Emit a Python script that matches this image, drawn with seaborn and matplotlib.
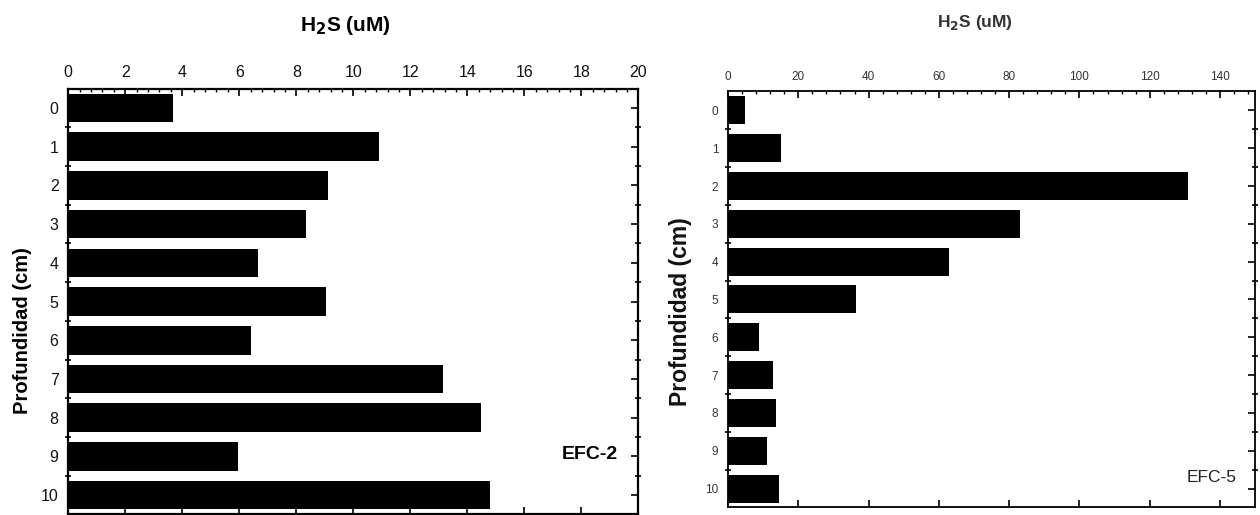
import pandas as pd
import matplotlib
matplotlib.use("Agg")
import matplotlib.pyplot as plt
from matplotlib.ticker import MultipleLocator, FixedLocator
import seaborn as sns

# Depth (cm) and H2S (uM) for the two cores
depth = [0, 1, 2, 3, 4, 5, 6, 7, 8, 9, 10]
h2s_efc2 = [3.67, 10.91, 9.11, 8.33, 6.67, 9.04, 6.41, 13.16, 14.47, 5.95, 14.8]
h2s_efc5 = [4.8, 15.0, 131.0, 83.0, 63.0, 36.5, 8.8, 12.7, 13.7, 11.0, 14.5]

sns.set_style("ticks")
plt.rcParams['font.family'] = ['Liberation Sans', 'DejaVu Sans']
plt.rcParams['text.color'] = 'black'

fig = plt.figure(figsize=(12.6, 5.15), dpi=100)


def draw_panel(ax, values, xmax, major, minor, label_size, label_color, spine_w):
    df = pd.DataFrame({"depth": depth, "h2s": values})
    sns.barplot(data=df, x="h2s", y="depth", orient="h", order=depth,
                color="black", width=0.74, linewidth=0, saturation=1, ax=ax)
    ax.set_xlim(0, xmax)
    ax.set_ylim(len(depth) - 0.5, -0.5)
    ax.set_xlabel("")
    ax.set_ylabel("")
    ax.xaxis.set_major_locator(MultipleLocator(major))
    ax.xaxis.set_minor_locator(MultipleLocator(minor))
    ax.yaxis.set_minor_locator(FixedLocator([d + 0.5 for d in depth[:-1]]))
    ax.tick_params(axis="x", which="major", top=True, bottom=True, labeltop=True,
                   labelbottom=False, direction="in", length=5, width=1.2,
                   labelsize=label_size, labelcolor=label_color, pad=6,
                   color="black")
    ax.tick_params(axis="x", which="minor", top=True, bottom=False,
                   direction="in", length=2.5, width=1.0, color="black")
    ax.tick_params(axis="y", which="major", left=False, right=True, direction="in",
                   length=5, width=1.2, labelsize=label_size,
                   labelcolor=label_color, pad=7, color="black")
    ax.tick_params(axis="y", which="minor", left=True, right=True,
                   direction="inout", length=4, width=1.2, color="black")
    for s in ax.spines.values():
        s.set_visible(True)
        s.set_linewidth(spine_w)
        s.set_color("black")


# EFC-2 panel
ax1 = fig.add_axes([0.0542, 0.0012, 0.4524, 0.8266])
draw_panel(ax1, h2s_efc2, 20, 2, 0.4, 11.5, "#111111", 1.6)
ax1.text(0.915, 0.14, "EFC-2", transform=ax1.transAxes, ha="center", va="center",
         fontsize=14, fontweight="bold")
fig.text(0.274, 0.951, r"H$_\mathbf{2}$S (uM)", ha="center", va="center",
         fontsize=15, fontweight="bold")
fig.text(0.0175, 0.359, "Profundidad (cm)", rotation=90, ha="center", va="center",
         fontsize=14.5, fontweight="bold")

# EFC-5 panel
ax2 = fig.add_axes([0.5778, 0.0146, 0.4183, 0.8078])
draw_panel(ax2, h2s_efc5, 150, 20, 4, 8.5, "#333333", 1.3)
ax2.text(0.918, 0.071, "EFC-5", transform=ax2.transAxes, ha="center", va="center",
         fontsize=12.5, color="#222222")
fig.text(0.774, 0.957, r"H$_\mathbf{2}$S (uM)", ha="center", va="center",
         fontsize=12.5, fontweight="bold", color="#333333")
fig.text(0.54, 0.394, "Profundidad (cm)", rotation=90, ha="center", va="center",
         fontsize=16.5, fontweight="bold", color="#111111")

fig.savefig("out.png", dpi=100)
